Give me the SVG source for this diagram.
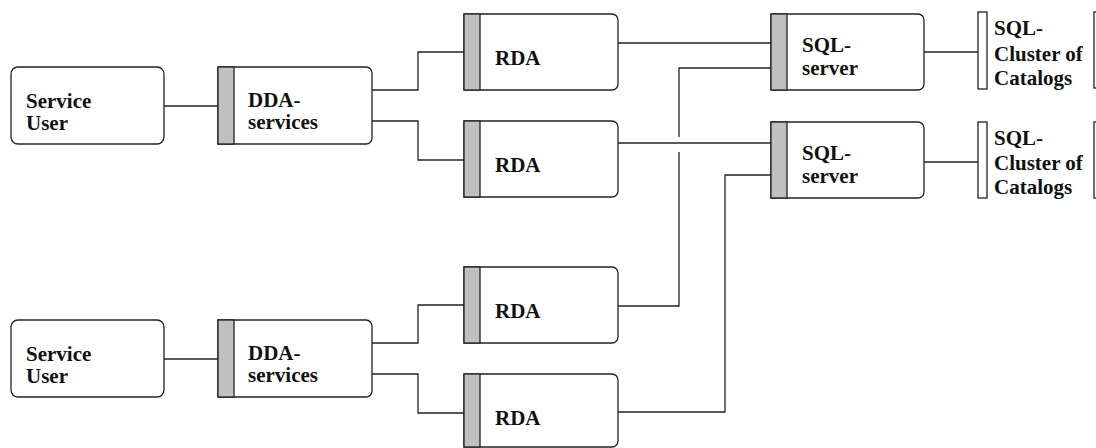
<svg xmlns="http://www.w3.org/2000/svg" width="1096" height="448" viewBox="0 0 1096 448">
<style>
.box{fill:#fff;stroke:#222;stroke-width:1.3}
.bar{fill:#c0c0c0;stroke:#222;stroke-width:1.3}
.wire{fill:none;stroke:#222;stroke-width:1.3}
.t{font-family:'Liberation Serif','DejaVu Serif',serif;font-weight:bold;font-size:21px;fill:#111}
</style>
<rect width="1096" height="448" fill="#fff"/>
<g id="connectors" class="wire">
<path d="M164 106H218"/>
<path d="M372 90H418V52H464"/>
<path d="M372 121H418V160H464"/>
<path d="M618 43H771"/>
<path d="M618 143H771"/>
<path d="M924 52H978"/>
<path d="M924 162H978"/>
<path d="M164 359H218"/>
<path d="M372 343H418V305H464"/>
<path d="M372 374H418V413H464"/>
<path d="M618 306H679V152M679 137V68H771"/>
<path d="M618 412H725V175H771"/>
</g>
<g class="t" font-family="Liberation Serif, serif">
<g id="su1"><rect class="box" x="11" y="67" width="153" height="77" rx="7"/><text x="26" y="108">Service</text><text x="26" y="130">User</text></g>
<g id="dda1"><path class="box" d="M218 67H366A6 6 0 0 1 372 73V138A6 6 0 0 1 366 144H218Z"/><rect class="bar" x="218" y="67" width="16" height="77"/><text x="248" y="107">DDA-</text><text x="248" y="129">services</text></g>
<g id="rda1"><path class="box" d="M464 14H612A6 6 0 0 1 618 20V84A6 6 0 0 1 612 90H464Z"/><rect class="bar" x="464" y="14" width="16" height="76"/><text x="495" y="65">RDA</text></g>
<g id="rda2"><path class="box" d="M464 121H612A6 6 0 0 1 618 127V191A6 6 0 0 1 612 197H464Z"/><rect class="bar" x="464" y="121" width="16" height="76"/><text x="495" y="172">RDA</text></g>
<g id="sql1"><path class="box" d="M771 14H918A6 6 0 0 1 924 20V84A6 6 0 0 1 918 90H771Z"/><rect class="bar" x="771" y="14" width="16" height="76"/><text x="802" y="52">SQL-</text><text x="802" y="75">server</text></g>
<g id="sql2"><path class="box" d="M771 122H918A6 6 0 0 1 924 128V192A6 6 0 0 1 918 198H771Z"/><rect class="bar" x="771" y="122" width="16" height="76"/><text x="802" y="160">SQL-</text><text x="802" y="183">server</text></g>
<g id="cluster1"><rect class="box" x="978" y="12" width="9" height="77"/><text x="994" y="35">SQL-</text><text x="994" y="61">Cluster of</text><text x="994" y="85">Catalogs</text></g>
<g id="cluster2"><rect class="box" x="978" y="122" width="9" height="76"/><text x="994" y="145">SQL-</text><text x="994" y="170">Cluster of</text><text x="994" y="194">Catalogs</text></g>
<g id="edge1"><rect class="box" x="1094" y="12" width="20" height="76"/></g>
<g id="edge2"><rect class="box" x="1094" y="122" width="20" height="76"/></g>
<g id="su2"><rect class="box" x="11" y="320" width="153" height="77" rx="7"/><text x="26" y="361">Service</text><text x="26" y="383">User</text></g>
<g id="dda2"><path class="box" d="M218 320H366A6 6 0 0 1 372 326V391A6 6 0 0 1 366 397H218Z"/><rect class="bar" x="218" y="320" width="16" height="77"/><text x="248" y="360">DDA-</text><text x="248" y="382">services</text></g>
<g id="rda3"><path class="box" d="M464 267H612A6 6 0 0 1 618 273V337A6 6 0 0 1 612 343H464Z"/><rect class="bar" x="464" y="267" width="16" height="76"/><text x="495" y="318">RDA</text></g>
<g id="rda4"><path class="box" d="M464 374H612A6 6 0 0 1 618 380V441A6 6 0 0 1 612 447H464Z"/><rect class="bar" x="464" y="374" width="16" height="73"/><text x="495" y="425">RDA</text></g>
</g>
</svg>
